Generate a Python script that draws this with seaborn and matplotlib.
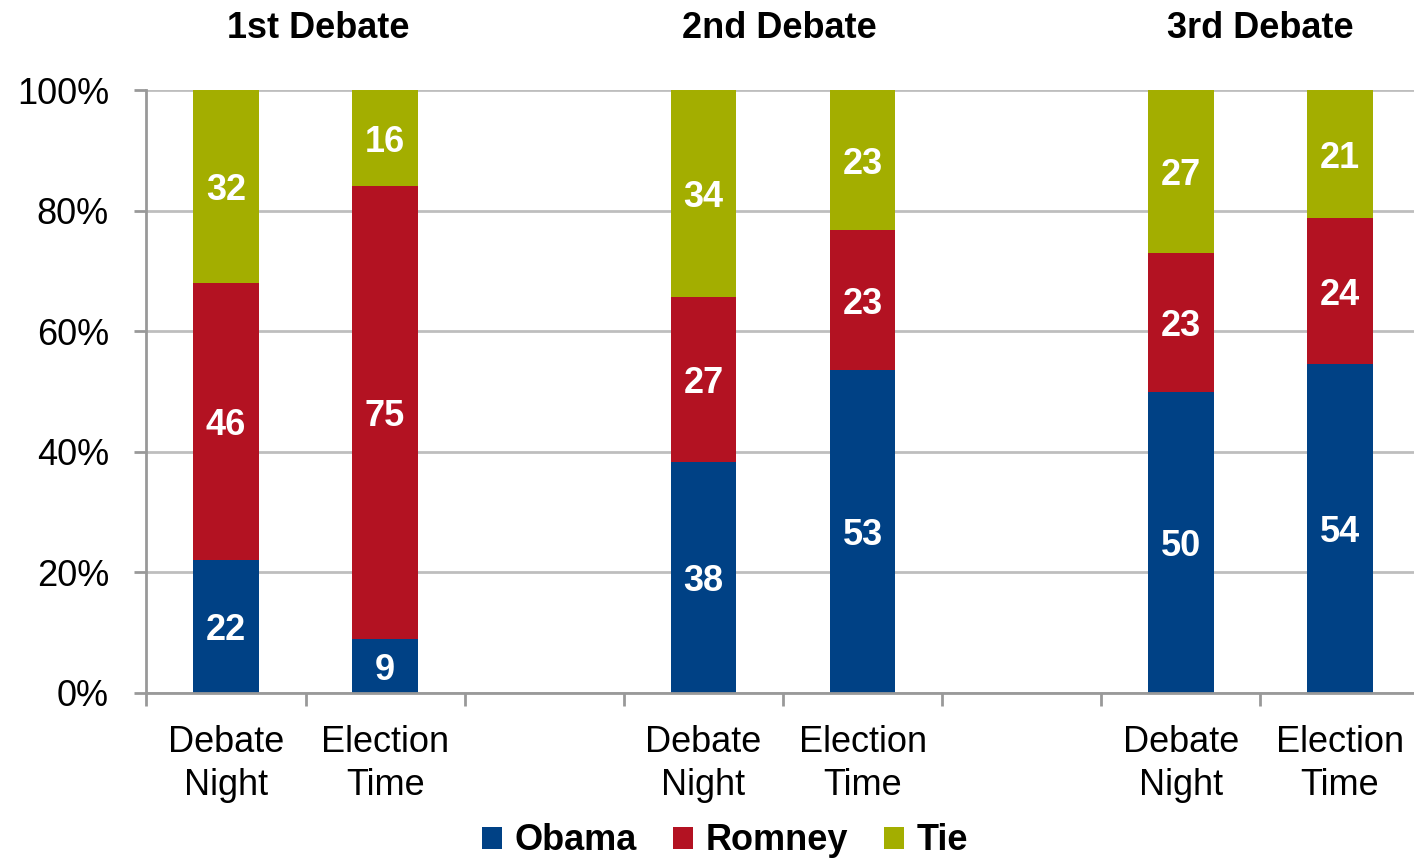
import matplotlib
matplotlib.use("Agg")
import matplotlib.pyplot as plt
from matplotlib.patches import Patch
import matplotlib.transforms as mtransforms
import seaborn as sns
import pandas as pd
import numpy as np

# ---- data ----
debates = ["1st Debate", "2nd Debate", "3rd Debate"]
timings = ["Debate\nNight", "Election\nTime"]
obama = [22, 9, 38, 53, 50, 54]
romney = [46, 75, 27, 23, 23, 24]
tie = [32, 16, 34, 23, 27, 21]
series = ["Obama", "Romney", "Tie"]
colors = {"Obama": "#004185", "Romney": "#B31222", "Tie": "#A3AE00"}

sns.set_theme(style="white")
plt.rcParams["font.family"] = ["Liberation Sans", "DejaVu Sans"]
plt.rcParams["text.color"] = "black"
plt.rcParams["xtick.labelcolor"] = "black"
plt.rcParams["ytick.labelcolor"] = "black"

# build slots (with an empty slot between debates)
rows = []
order = []
for gi, d in enumerate(debates):
    for ti, t in enumerate(timings):
        i = gi * 2 + ti
        tot = obama[i] + romney[i] + tie[i]
        key = f"{d}|{t}"
        order.append(key)
        rows.append(dict(slot=key, debate=d, timing=t,
                         obama=obama[i] / tot * 100,
                         romney=romney[i] / tot * 100,
                         tie=tie[i] / tot * 100,
                         o_raw=obama[i], r_raw=romney[i], t_raw=tie[i]))
    if gi < len(debates) - 1:
        order.append(f"gap{gi}")
df = pd.DataFrame(rows)
df["cum_r"] = df["obama"] + df["romney"]
df["cum_t"] = df["cum_r"] + df["tie"]

W, H = 1414, 860
fig = plt.figure(figsize=(W / 100, H / 100), dpi=100)
ax = fig.add_axes([146.4 / W, (H - 693) / H, 1273.2 / W, 603 / H])

bw = 0.41
for col, name in [("cum_t", "Tie"), ("cum_r", "Romney"), ("obama", "Obama")]:
    sns.barplot(data=df, x="slot", y=col, order=order, color=colors[name],
                width=bw, saturation=1, errorbar=None, ax=ax, linewidth=0)

# value labels (nudged slightly down to sit like the reference)
nudge = mtransforms.offset_copy(ax.transData, fig=fig, x=0, y=-3, units="points")
pos = {k: i for i, k in enumerate(order)}
for _, r in df.iterrows():
    x = pos[r["slot"]]
    for lo, h, raw in [(0, r["obama"], r["o_raw"]),
                       (r["obama"], r["romney"], r["r_raw"]),
                       (r["cum_r"], r["tie"], r["t_raw"])]:
        ax.text(x, lo + h / 2, f"{int(raw)}", ha="center", va="center",
                color="white", fontsize=26, fontweight="bold", transform=nudge)

# axes styling
ax.set_xlim(-0.5, len(order) - 0.5)
ax.set_ylim(0, 100)
ax.set_xlabel("")
ax.set_ylabel("")
ax.set_axisbelow(True)
ax.yaxis.grid(True, color="#BEBEBE", linewidth=2)
ax.xaxis.grid(False)
for s in ["top", "right"]:
    ax.spines[s].set_visible(False)
ax.spines["left"].set_color("#999999")
ax.spines["left"].set_linewidth(2)
ax.spines["bottom"].set_color("#999999")
ax.spines["bottom"].set_linewidth(2)

ax.set_yticks(np.arange(0, 101, 20))
ax.set_yticklabels([f"{v}%" for v in range(0, 101, 20)])
ax.tick_params(axis="y", direction="out", length=9, width=2, color="#999999",
               labelsize=26, pad=18, left=True)

xt = [pos[k] for k in df["slot"]]
ax.set_xticks(xt)
ax.set_xticklabels(df["timing"], fontsize=26, linespacing=1.3)
ax.tick_params(axis="x", which="major", length=0, pad=23)
ax.set_xticks(np.arange(-0.5, len(order), 1.0), minor=True)
ax.tick_params(axis="x", which="minor", direction="out", length=9, width=2,
               color="#999999", bottom=True)

# debate titles
title_x = {"1st Debate": 0.58, "2nd Debate": 3.48, "3rd Debate": 6.5}
for d in debates:
    ax.text(title_x[d], 1.102, d, transform=ax.get_xaxis_transform(),
            ha="center", va="center", fontsize=26, fontweight="bold",
            color="black")

handles = [Patch(facecolor=colors[s], edgecolor="none") for s in series]
fig.legend(handles, series, loc="center", bbox_to_anchor=(725 / W, 19 / H),
           ncol=3, frameon=False, prop={"size": 26, "weight": "bold"},
           handlelength=0.55, handleheight=0.55, handletextpad=0.35,
           columnspacing=1.0, borderaxespad=0)

fig.savefig("out.png", dpi=100)
